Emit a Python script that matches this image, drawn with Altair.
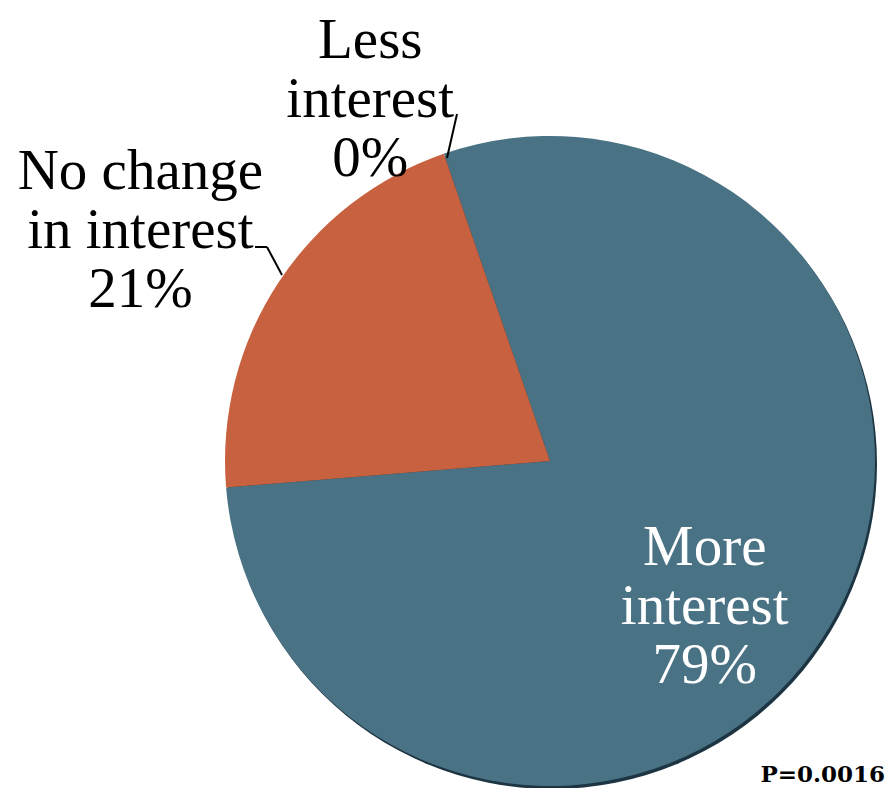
import math
import altair as alt
import pandas as pd

categories = ["More interest", "No change in interest", "Less interest"]
values = [79, 21, 0]
labels = ["More\ninterest\n79%", "No change\nin interest\n21%", "Less\ninterest\n0%"]
colors = ["#4a7285", "#c8613f", "#c8613f"]
p_value = "P=0.0016"

df = pd.DataFrame({"category": categories, "value": values, "label": labels,
                   "order": [0, 1, 2]})

CX, CY, R = 542, 453, 325
start = -0.333
theta_scale = alt.Scale(domain=[0, 100], range=[start, start + 2 * math.pi])

base = alt.Chart(df)

shadow = base.mark_arc(x=CX + 2, y=CY + 3, radius=R, color="#1d3542").encode(
    theta=alt.value(0), theta2=alt.value(2 * math.pi)
).transform_filter("datum.order == 0")

pie = base.mark_arc(x=CX, y=CY, radius=R).encode(
    theta=alt.Theta("value:Q", stack=True, scale=theta_scale),
    order=alt.Order("order:Q"),
    color=alt.Color("category:N", scale=alt.Scale(domain=categories, range=colors), legend=None),
)

FONT = "Liberation Serif"

def label_layer(cat, radius, dx, dy, color):
    return base.mark_text(x=CX, y=CY, radius=radius, dx=dx, dy=dy, font=FONT,
                          fontSize=57, lineHeight=59, lineBreak="\n",
                          align="center", baseline="middle", color=color).encode(
        theta=alt.Theta("value:Q", stack=True, scale=theta_scale),
        order=alt.Order("order:Q"),
        text=alt.condition(f"datum.category == '{cat}'", "label:N", alt.value("")),
    )

t_more = label_layer("More interest", 211, -22, -28, "white")
t_no = label_layer("No change in interest", 470, -16, -32, "black")
t_less = label_layer("Less interest", 400, -49, -42, "black")

one = pd.DataFrame({"k": [0]})
leader_a = alt.Chart(one).mark_rule(color="black", strokeWidth=2).encode(
    x=alt.value(247), x2=alt.value(259), y=alt.value(239), y2=alt.value(239))
leader_b = alt.Chart(one).mark_rule(color="black", strokeWidth=2).encode(
    x=alt.value(259), x2=alt.value(274), y=alt.value(239), y2=alt.value(267))
leader_c = alt.Chart(one).mark_rule(color="black", strokeWidth=2).encode(
    x=alt.value(449), x2=alt.value(439), y=alt.value(106), y2=alt.value(150))

ptext = alt.Chart(pd.DataFrame({"t": [p_value]})).mark_text(
    font="DejaVu Serif", fontSize=23, fontWeight="bold", align="right",
    baseline="alphabetic", color="black"
).encode(x=alt.value(877), y=alt.value(774), text="t:N")

chart = alt.layer(shadow, pie, t_more, t_no, t_less, leader_a, leader_b, leader_c, ptext).properties(
    width=877, height=780, padding=0, autosize=alt.AutoSizeParams(type="none")
).configure_view(stroke=None)

chart.save("out.html", embed_options={"renderer": "svg", "actions": False})
